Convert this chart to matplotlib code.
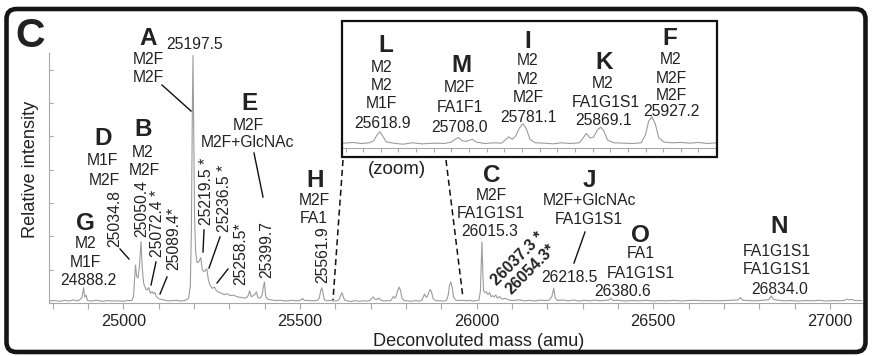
import numpy as np
import matplotlib
matplotlib.use("Agg")
import matplotlib.pyplot as plt
from matplotlib.transforms import Affine2D
from matplotlib.patches import FancyBboxPatch, Rectangle
from matplotlib.lines import Line2D

plt.rcParams['font.family'] = ['Liberation Sans', 'DejaVu Sans']

# ---------------------------------------------------------------- data
# apex positions (amu) and relative intensities of the resolved peaks
peak_mass = [24888.2, 24895.0, 25034.8, 25050.4, 25072.4, 25089.4, 25197.5,
             25219.5, 25236.5, 25258.5, 25358.0, 25377.0, 25399.7, 25508.0,
             25561.9, 25618.9, 25708.0, 25724.0, 25765.0, 25781.1, 25853.0,
             25869.1, 25927.2, 26015.3, 26037.3, 26054.3, 26218.5, 26380.6,
             26747.0, 26834.0, 27050.0]
peak_int = [6.2, 3.2, 15.5, 25.0, 6.3, 4.3, 101.0,
            18.5, 14.0, 6.5, 5.0, 4.6, 8.6, 1.8,
            6.2, 4.2, 2.5, 2.0, 2.7, 6.5, 3.7,
            5.5, 8.5, 25.0, 4.2, 3.3, 6.0, 1.9,
            2.2, 2.9, 1.6]

# baseline, peak flanks and valleys of the deconvoluted trace
trace_mass = [24790, 24805, 24820, 24835, 24848, 24858, 24868, 24876, 24883, 24891,
              24899, 24910, 24925, 24940, 24955, 24970, 24985, 25000, 25013, 25024,
              25029, 25032, 25038, 25042, 25046, 25054, 25058, 25063, 25067, 25077,
              25082, 25086, 25094, 25100, 25110, 25122, 25135, 25150, 25165, 25178,
              25185, 25190, 25193, 25195.5, 25199.5, 25202, 25205, 25209, 25214, 25224,
              25229, 25241, 25246, 25252, 25264, 25270, 25278, 25286, 25294, 25303,
              25313, 25323, 25333, 25343, 25351, 25355, 25362, 25366, 25373, 25381,
              25388, 25393, 25396, 25403, 25408, 25418, 25430, 25445, 25460, 25475,
              25490, 25500, 25504, 25512, 25525, 25540, 25550, 25555, 25559, 25565,
              25569, 25578, 25588, 25598, 25607, 25612, 25615.5, 25622, 25626, 25634,
              25645, 25656, 25667, 25680, 25692, 25700, 25704, 25712, 25717, 25721,
              25728, 25738, 25748, 25757, 25761, 25769, 25773, 25777, 25785, 25789,
              25795, 25805, 25815, 25825, 25835, 25845, 25849, 25857, 25861, 25865,
              25873, 25877, 25884, 25895, 25905, 25915, 25920, 25923.5, 25931, 25935,
              25941, 25950, 25960, 25970, 25980, 25990, 26000, 26007, 26011, 26013,
              26017.5, 26020, 26024, 26028, 26032, 26041, 26046, 26050, 26059, 26065,
              26072, 26082, 26092, 26105, 26120, 26135, 26150, 26165, 26180, 26195,
              26206, 26213, 26223, 26229, 26245, 26260, 26275, 26290, 26305, 26320,
              26335, 26350, 26365, 26375, 26386, 26400, 26420, 26440, 26460, 26480,
              26500, 26520, 26540, 26560, 26580, 26600, 26620, 26640, 26660, 26680,
              26700, 26720, 26741, 26753, 26770, 26790, 26810, 26827, 26840, 26850,
              26870, 26890, 26910, 26930, 26950, 26970, 26990, 27010, 27030, 27044,
              27056, 27062, 27070, 27091]
trace_int = [0.8, 1.0, 0.7, 1.1, 0.8, 1.3, 0.9, 1.2, 2.2, 2.4,
             1.0, 0.8, 1.1, 0.7, 1.0, 0.8, 0.9, 0.7, 1.0, 1.0,
             2.5, 9.0, 11.0, 10.2, 15.0, 14.0, 8.0, 6.0, 5.2, 4.0,
             4.6, 3.8, 2.6, 1.8, 1.4, 1.0, 0.9, 1.1, 0.8, 1.2,
             2.0, 7.0, 30.0, 75.0, 70.0, 35.0, 21.0, 16.5, 16.8, 13.5,
             12.8, 9.5, 7.2, 6.0, 5.0, 4.4, 4.0, 3.4, 3.8, 3.0,
             3.2, 2.5, 2.3, 2.0, 2.4, 3.5, 2.6, 2.8, 3.5, 2.2,
             2.0, 3.0, 6.0, 3.0, 1.6, 1.3, 1.0, 1.1, 0.8, 1.1,
             0.9, 1.0, 1.4, 1.1, 1.0, 0.9, 1.1, 2.0, 5.0, 4.5,
             1.3, 0.9, 1.1, 0.8, 1.0, 1.6, 3.2, 3.0, 1.3, 0.9,
             0.6, 1.0, 0.7, 0.9, 0.8, 1.2, 2.0, 1.6, 1.4, 1.8,
             1.2, 0.8, 1.0, 0.9, 1.8, 2.0, 3.0, 5.2, 5.0, 2.0,
             1.0, 0.9, 0.7, 1.0, 0.8, 1.0, 2.3, 2.4, 2.6, 4.5,
             4.3, 1.8, 1.0, 0.9, 0.8, 1.0, 3.3, 7.2, 6.5, 2.4,
             1.2, 1.0, 1.1, 0.9, 1.1, 0.8, 1.0, 1.2, 5.0, 15.0,
             14.0, 5.0, 4.2, 4.6, 3.4, 2.6, 3.0, 2.4, 2.0, 2.6,
             1.6, 1.9, 1.2, 1.0, 1.3, 0.9, 1.1, 0.8, 1.2, 1.0,
             1.2, 2.5, 2.0, 1.0, 1.2, 0.9, 1.2, 0.8, 1.1, 0.9,
             1.2, 0.9, 1.1, 1.2, 1.0, 1.1, 0.8, 1.0, 0.9, 1.1,
             0.8, 1.0, 0.9, 1.1, 0.8, 1.0, 1.1, 0.9, 1.0, 0.9,
             1.0, 1.1, 1.3, 1.1, 1.0, 0.9, 1.1, 1.3, 1.5, 1.2,
             0.9, 1.0, 0.8, 1.0, 0.9, 1.1, 0.8, 1.0, 0.9, 1.2,
             1.2, 1.5, 1.0, 1.0]

main_xlim = (24790, 27091)
main_ylim = (0, 102)
zoom_xlim = (25576, 26001)
zoom_ylim = (-0.35, 35.7)
major_ticks = [25000, 25500, 26000, 26500, 27000]

# merge apexes and flanks into one ordered trace
m = np.array(trace_mass + peak_mass, dtype=float)
y = np.array(trace_int + peak_int, dtype=float)
order = np.argsort(m)
spec_m, spec_y = m[order], y[order]

# ---------------------------------------------------------------- figure
W, H = 872, 356
fig = plt.figure(figsize=(W / 100, H / 100), dpi=100)
px = Affine2D().scale(0.01, -0.01).translate(0, H / 100) + fig.dpi_scale_trans

TXT = '#222222'
GREY = '#9c9c9c'
AXC = '#a8a8a8'


def frac(x0, y0, x1, y1):
    return [x0 / W, 1 - y1 / H, (x1 - x0) / W, (y1 - y0) / H]


# main spectrum
ax = fig.add_axes(frac(49, 53, 862, 303))
ax.plot(spec_m, spec_y, color=GREY, lw=0.8, zorder=3)
ax.set_xlim(*main_xlim)
ax.set_ylim(*main_ylim)
for s in ('top', 'right'):
    ax.spines[s].set_visible(False)
for s in ('left', 'bottom'):
    ax.spines[s].set_color(AXC)
    ax.spines[s].set_linewidth(0.8)
ax.set_xticks(np.arange(24800, 27001, 100))
ax.set_xticklabels([str(t) if t in major_ticks else '' for t in range(24800, 27001, 100)])
ax.tick_params(axis='x', direction='out', length=4, width=0.8, color=AXC,
               labelsize=11.7, labelcolor=TXT, pad=4)
ax.set_yticks(np.arange(0, 100, 13.6))
ax.set_yticklabels([])
ax.tick_params(axis='y', direction='in', length=3, width=0.8, color=AXC)
ax.patch.set_alpha(0)

# zoomed inset
axz = fig.add_axes(frac(342, 22, 717, 147.5))
axz.plot(spec_m, spec_y, color=GREY, lw=0.8)
axz.set_xlim(*zoom_xlim)
axz.set_ylim(*zoom_ylim)
for s in ('top', 'right', 'left'):
    axz.spines[s].set_visible(False)
axz.spines['bottom'].set_color(AXC)
axz.spines['bottom'].set_linewidth(0.8)
axz.set_xticks(np.arange(25580, 26001, 20))
axz.set_xticklabels([])
axz.set_yticks([])
axz.tick_params(axis='x', direction='out', length=3, width=0.8, color=AXC)
axz.patch.set_alpha(0)

# inset frame and outer panel frame
fig.patches.append(Rectangle((342, 21), 375, 136, transform=px, fill=False,
                             ec='#111111', lw=1.6, zorder=5))
fig.patches.append(FancyBboxPatch((6.5, 9), 859, 343, transform=px, fill=False,
                                  boxstyle='round,pad=0,rounding_size=10',
                                  ec='#151515', lw=3.3, zorder=5))

# ---------------------------------------------------------------- text
BIG = dict(fontsize=17.5, fontweight='bold')
LBL = dict(fontsize=11.3)


def put(s, x, yb, style=LBL, **kw):
    fig.text(x, yb, s, transform=px, ha='center', va='baseline', color=TXT, **style, **kw)


def mass_txt(v):
    assert v in peak_mass
    return f"{v:.1f}"


# horizontal label stacks: (text, centre x, baseline y, style)
stacks = [
    ('G', 85.5, 230, BIG), ('M2', 86, 248, LBL), ('M1F', 85.5, 267, LBL),
    (mass_txt(24888.2), 88, 285, LBL),
    ('D', 103.5, 145, BIG), ('M1F', 102, 165, LBL), ('M2F', 104, 185, LBL),
    ('B', 143.5, 136.5, BIG), ('M2', 142.5, 157, LBL), ('M2F', 144, 175, LBL),
    ('A', 148.5, 45, BIG), (mass_txt(25197.5), 194.5, 49, LBL),
    ('M2F', 148, 63.5, LBL), ('M2F', 148, 82, LBL),
    ('E', 249.5, 110, BIG), ('M2F', 248, 130, LBL), ('M2F+GlcNAc', 248, 147, LBL),
    ('H', 315, 187, BIG), ('M2F', 314.5, 205, LBL), ('FA1', 314, 223, LBL),
    ('C', 492, 182, BIG), ('M2F', 491, 200, LBL), ('FA1G1S1', 491, 218.5, LBL),
    (mass_txt(26015.3), 490, 236, LBL),
    ('J', 589.5, 187, BIG), ('M2F+GlcNAc', 589, 205, LBL), ('FA1G1S1', 589, 223.5, LBL),
    (mass_txt(26218.5), 569, 282, LBL),
    ('O', 640.5, 241.5, BIG), ('FA1', 641, 258.5, LBL), ('FA1G1S1', 641, 277.5, LBL),
    (mass_txt(26380.6), 623, 296.5, LBL),
    ('N', 779.5, 233, BIG), ('FA1G1S1', 776.5, 255.5, LBL), ('FA1G1S1', 776.5, 274, LBL),
    (mass_txt(26834.0), 779.5, 294, LBL),
    # inset
    ('L', 386, 51.5, BIG), ('M2', 382, 71.5, LBL), ('M2', 382, 89.5, LBL),
    ('M1F', 381.5, 108, LBL), (mass_txt(25618.9), 383, 128, LBL),
    ('M', 461, 72.5, BIG), ('M2F', 459, 92, LBL), ('FA1F1', 460, 111.5, LBL),
    (mass_txt(25708.0), 460, 132.5, LBL),
    ('I', 527.5, 48, BIG), ('M2', 528, 65, LBL), ('M2', 528, 83.5, LBL),
    ('M2F', 528, 102, LBL), (mass_txt(25781.1), 528.5, 121.5, LBL),
    ('K', 604.5, 69, BIG), ('M2', 602.5, 88, LBL), ('FA1G1S1', 606, 107, LBL),
    (mass_txt(25869.1), 604, 125, LBL),
    ('F', 670, 45, BIG), ('M2', 671, 63.5, LBL), ('M2F', 671, 83, LBL),
    ('M2F', 671, 100.5, LBL), (mass_txt(25927.2), 671, 115.5, LBL),
]
for s, x, yb, st in stacks:
    put(s, x, yb, st)

# vertical mass labels: (text, column centre x, bottom y)
vertical = [
    (mass_txt(25034.8), 114, 247), (mass_txt(25050.4), 141, 237),
    (mass_txt(25072.4) + ' *', 156.5, 257), (mass_txt(25089.4) + '*', 173, 270),
    (mass_txt(25219.5) + ' *', 205.5, 225), (mass_txt(25236.5) + ' *', 223, 232),
    (mass_txt(25258.5) + '*', 240, 285), (mass_txt(25399.7), 265.5, 278),
    (mass_txt(25561.9), 321.5, 283),
]
for s, x, yb in vertical:
    fig.text(x + 5.6, yb, s, transform=px, rotation=90, rotation_mode='anchor',
             ha='left', va='baseline', color=TXT, **LBL)

# diagonal labels
for s, x, yb in [(mass_txt(26037.3) + ' *', 497, 286), (mass_txt(26054.3) + '*', 511, 295)]:
    fig.text(x, yb, s, transform=px, rotation=45, rotation_mode='anchor',
             ha='left', va='baseline', color=TXT, fontsize=11.3, fontweight='bold')

# leader lines
leaders = [((162, 85), (191, 111)), ((254, 153), (263, 197)),
           ((120, 249), (129, 259)), ((156, 262), (151, 285)),
           ((167, 277), (160, 294)), ((204, 230), (203, 252)),
           ((220, 237), (209, 268)), ((228, 269), (217, 283)),
           ((585, 232), (574, 263))]
for (x0, y0), (x1, y1) in leaders:
    fig.lines.append(Line2D([x0, x1], [y0, y1], transform=px, color='#111111', lw=1.0))

# zoom guides
for (x0, y0), (x1, y1) in [((343, 160), (333, 300)), ((446, 160), (463, 298))]:
    fig.lines.append(Line2D([x0, x1], [y0, y1], transform=px, color='#111111',
                            lw=1.1, dashes=(4, 2.5)))
put('(zoom)', 396.5, 174.5, dict(fontsize=13.5))

# panel letter and axis titles
put('C', 30, 47, dict(fontsize=29.5, fontweight='bold'))
fig.text(30.5, 169, 'Relative intensity', transform=px, rotation=90, ha='center',
         va='center', color=TXT, fontsize=13.1)
fig.text(479, 341, 'Deconvoluted mass (amu)', transform=px, ha='center',
         va='center', color=TXT, fontsize=13.1)

fig.savefig('out.png', dpi=100, facecolor='white')
